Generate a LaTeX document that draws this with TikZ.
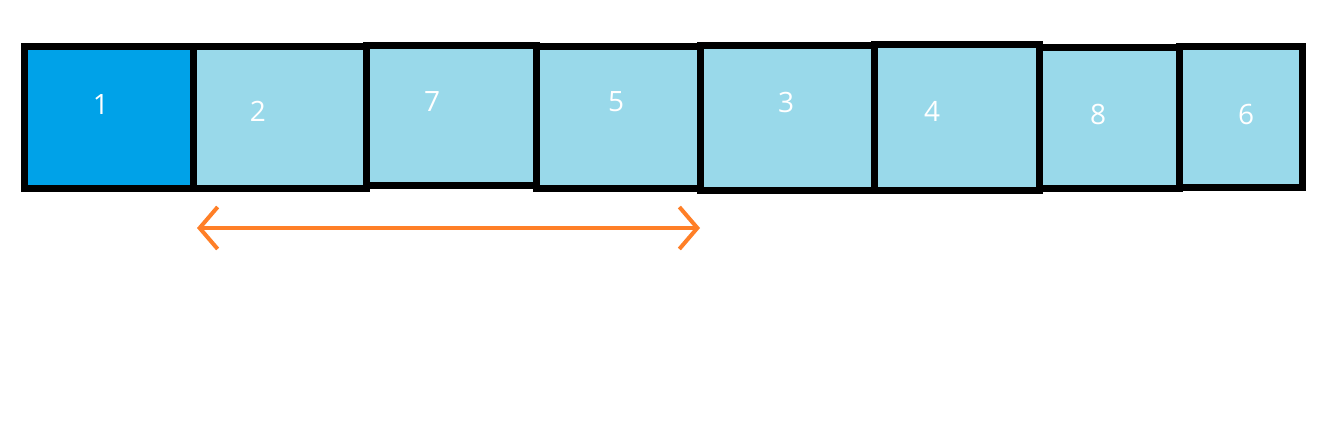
\documentclass[tikz,border=0pt]{standalone}
\usepackage{fontspec}
\setmainfont{Open Sans}
\usetikzlibrary{arrows.meta}
\definecolor{darkcell}{HTML}{00A2E8}
\definecolor{lightcell}{HTML}{99D9EA}
\definecolor{arrowcol}{HTML}{FF7F27}
\begin{document}
\begin{tikzpicture}
		[x=1pt,y=-1pt,
		cell/.style={rectangle,draw=black,line width=7pt,fill=lightcell,
inner sep=0pt,anchor=north west},
		firstcell/.style={cell,fill=darkcell},
		digit/.style={text=white,font=\fontsize{28}{30}\selectfont},
		span/.style={{Straight Barb[length=18pt,width=42pt]}-{Straight Barb[length=18pt,width=42pt]},arrowcol,line width=4pt}]
		\useasboundingbox (0,0) rectangle (1327,424);
		\node at (21, 43) (one) [firstcell,minimum width=169pt,minimum height=142pt] {};
		\node at (190, 43) (two) [cell,minimum width=173pt,minimum height=142pt] {};
		\node at (363, 42) (three) [cell,minimum width=170pt,minimum height=140pt] {};
		\node at (533, 43) (four) [cell,minimum width=164pt,minimum height=142pt] {};
		\node at (697, 42) (five) [cell,minimum width=174pt,minimum height=145pt] {};
		\node at (871, 41) (six) [cell,minimum width=165pt,minimum height=146pt] {};
		\node at (1036, 44) (seven) [cell,minimum width=140pt,minimum height=141pt] {};
		\node at (1176, 43) (eight) [cell,minimum width=123pt,minimum height=141pt] {};
		\node at (101, 104) (lone) [digit] {1};
		\node at (258, 111) (ltwo) [digit] {2};
		\node at (432, 102) (lthree) [digit] {7};
		\node at (616, 102) (lfour) [digit] {5};
		\node at (786, 102) (lfive) [digit] {3};
		\node at (932, 111) (lsix) [digit] {4};
		\node at (1098, 114) (lseven) [digit] {8};
		\node at (1246, 114) (leight) [digit] {6};
		\coordinate (left) at (197, 228);
		\coordinate (right) at (700, 228);
		\draw[span] (left) -- (right);
	\end{tikzpicture}
\end{document}
